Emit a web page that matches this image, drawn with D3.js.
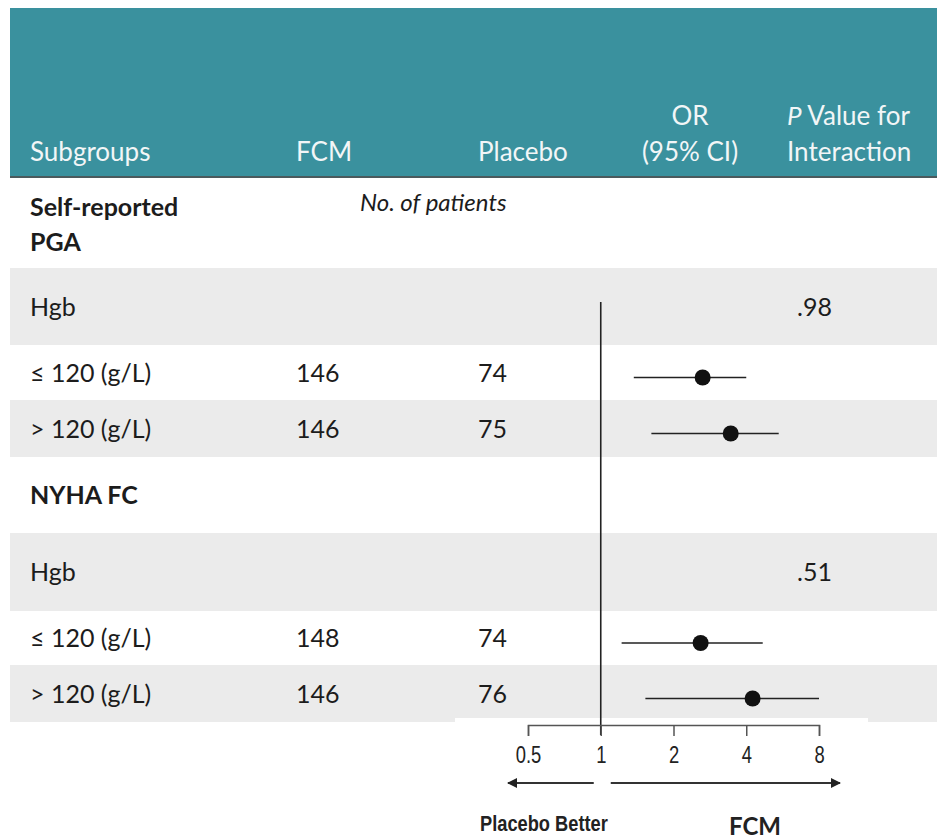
<!DOCTYPE html>
<html>
<head>
<meta charset="utf-8">
<script src="https://cdn.jsdelivr.net/npm/d3@7"></script>
<style>
  body { margin: 0; background: #fff; }
  text { font-family: Lato, "Open Sans", sans-serif; }
</style>
</head>
<body>
<div id="chart"></div>
<script>
var w = 937, h = 839;

// Data
var rowLabels = [["Self-reported", "PGA"], ["Hgb"], ["\u2264 120 (g/L)"], ["> 120 (g/L)"],
                 ["NYHA FC"], ["Hgb"], ["\u2264 120 (g/L)"], ["> 120 (g/L)"]];
var rowBold = [true, false, false, false, true, false, false, false];
var fcmN = [null, null, 146, 146, null, null, 148, 146];
var placeboN = [null, null, 74, 75, null, null, 74, 76];
var orValue = [null, null, 2.64, 3.45, null, null, 2.59, 4.25];
var ciLow = [null, null, 1.37, 1.62, null, null, 1.22, 1.53];
var ciHigh = [null, null, 4.0, 5.45, null, null, 4.68, 8.0];
var pInteraction = [null, ".98", null, null, null, ".51", null, null];
var tickValues = [0.5, 1, 2, 4, 8];

// Layout
var rowTops = [178, 268, 345, 400, 457, 533, 611, 665, 722];
var colX = { sub: 30, fcm: 296, placebo: 478, or: 690, p: 787, pVal: 797 };
var narrow = "'Liberation Sans', Arial, sans-serif";

var svg = d3.select("#chart").append("svg")
  .attr("width", w)
  .attr("height", h);

// Header band
svg.append("rect")
  .attr("x", 10).attr("y", 8)
  .attr("width", w - 10).attr("height", 169)
  .attr("fill", "#3a919e");
svg.append("rect")
  .attr("x", 10).attr("y", 176)
  .attr("width", w - 10).attr("height", 3)
  .attr("fill", "#4b5a5d");

var hdr = svg.append("g").attr("fill", "#f2f6f7").style("font-size", "26px");
hdr.append("text").attr("x", colX.sub).attr("y", 161).text("Subgroups");
hdr.append("text").attr("x", colX.fcm).attr("y", 161).text("FCM");
hdr.append("text").attr("x", colX.placebo).attr("y", 161).text("Placebo");
hdr.append("text").attr("x", colX.or).attr("y", 125).attr("text-anchor", "middle").text("OR");
hdr.append("text").attr("x", colX.or).attr("y", 161).attr("text-anchor", "middle").text("(95% CI)");
var pt = hdr.append("text").attr("x", colX.p).attr("y", 125);
pt.append("tspan").style("font-style", "italic").text("P");
pt.append("tspan").text(" Value for");
hdr.append("text").attr("x", colX.p).attr("y", 161).text("Interaction");

// Row backgrounds
var rows = d3.range(rowLabels.length);
svg.selectAll("rect.row")
  .data(rows)
  .enter()
  .append("rect")
  .attr("class", "row")
  .attr("x", 10)
  .attr("y", function(i) { return rowTops[i]; })
  .attr("width", w - 10)
  .attr("height", function(i) { return rowTops[i + 1] - rowTops[i]; })
  .attr("fill", function(i) { return i % 2 === 1 ? "#ebebeb" : "#ffffff"; });

function rowMid(i) { return (rowTops[i] + rowTops[i + 1]) / 2; }

// Row labels
var body = svg.append("g").attr("fill", "#1c1c1c").style("font-size", "25px");
rows.forEach(function(i) {
  var lines = rowLabels[i];
  var y0 = lines.length === 2 ? rowTops[i] + 38 : rowMid(i) + 9;
  lines.forEach(function(l, k) {
    body.append("text")
      .attr("x", colX.sub)
      .attr("y", y0 + k * 35)
      .style("font-weight", rowBold[i] ? "700" : "400")
      .text(l);
  });
  if (fcmN[i] != null) {
    body.append("text").attr("x", colX.fcm).attr("y", rowMid(i) + 9).text(fcmN[i]);
    body.append("text").attr("x", colX.placebo).attr("y", rowMid(i) + 9).text(placeboN[i]);
  }
  if (pInteraction[i] != null) {
    body.append("text").attr("x", colX.pVal).attr("y", rowMid(i) + 9).text(pInteraction[i]);
  }
});

body.append("text")
  .attr("x", 360).attr("y", 211)
  .style("font-style", "italic")
  .style("font-size", "24px")
  .text("No. of patients");

// White patch behind axis
svg.append("rect")
  .attr("x", 455).attr("y", 718)
  .attr("width", 413).attr("height", h - 718)
  .attr("fill", "#fff");

// Scale
var xScale = d3.scaleLog()
  .base(2)
  .domain([0.5, 8])
  .range([528, 819]);

var axisY = 725;

// Reference line at OR = 1
svg.append("line")
  .attr("x1", xScale(1)).attr("x2", xScale(1))
  .attr("y1", 302).attr("y2", axisY + 10)
  .attr("stroke", "#222").attr("stroke-width", 1.6);

// Axis
var xAxis = d3.axisBottom(xScale)
  .tickValues(tickValues)
  .tickSize(11)
  .tickFormat(function(d) { return String(d); });

var ax = svg.append("g")
  .attr("transform", "translate(0," + axisY + ")")
  .call(xAxis);
ax.select(".domain").attr("stroke", "#555").attr("stroke-width", 1.5);
ax.selectAll(".tick line").attr("stroke", "#555").attr("stroke-width", 1.5);
ax.selectAll(".tick text")
  .attr("y", 38)
  .attr("dy", null)
  .attr("transform", "scale(0.8,1)")
  .attr("fill", "#222")
  .style("font-family", narrow)
  .style("font-size", "23px");

// Direction arrows
svg.append("defs").append("marker")
  .attr("id", "arr")
  .attr("viewBox", "0 0 10 10")
  .attr("refX", 9).attr("refY", 5)
  .attr("markerWidth", 6).attr("markerHeight", 5)
  .attr("orient", "auto-start-reverse")
  .append("path")
  .attr("d", "M0,0L10,5L0,10Z")
  .attr("fill", "#222");

svg.append("line")
  .attr("x1", xScale(1) - 7).attr("x2", xScale(0.5) - 20)
  .attr("y1", 783).attr("y2", 783)
  .attr("stroke", "#333").attr("stroke-width", 2)
  .attr("marker-end", "url(#arr)");
svg.append("line")
  .attr("x1", xScale(1) + 10).attr("x2", xScale(8) + 21)
  .attr("y1", 783).attr("y2", 783)
  .attr("stroke", "#333").attr("stroke-width", 2)
  .attr("marker-end", "url(#arr)");

svg.append("text")
  .attr("transform", "translate(480,831) scale(0.83,1)")
  .attr("fill", "#222")
  .style("font-family", narrow)
  .style("font-weight", "700")
  .style("font-size", "22px")
  .text("Placebo Better");
svg.append("text")
  .attr("x", 729).attr("y", 835)
  .attr("fill", "#222")
  .style("font-weight", "700")
  .style("font-size", "24px")
  .text("FCM");

// CI lines and points
var est = rows.filter(function(i) { return orValue[i] != null; });

svg.selectAll("line.ci")
  .data(est)
  .enter()
  .append("line")
  .attr("class", "ci")
  .attr("x1", function(i) { return xScale(ciLow[i]); })
  .attr("x2", function(i) { return xScale(ciHigh[i]); })
  .attr("y1", function(i) { return rowMid(i) + 5; })
  .attr("y2", function(i) { return rowMid(i) + 5; })
  .attr("stroke", "#222")
  .attr("stroke-width", 1.6);

svg.selectAll("circle")
  .data(est)
  .enter()
  .append("circle")
  .attr("cx", function(i) { return xScale(orValue[i]); })
  .attr("cy", function(i) { return rowMid(i) + 5; })
  .attr("r", 8)
  .attr("fill", "#111");
</script>
</body>
</html>
